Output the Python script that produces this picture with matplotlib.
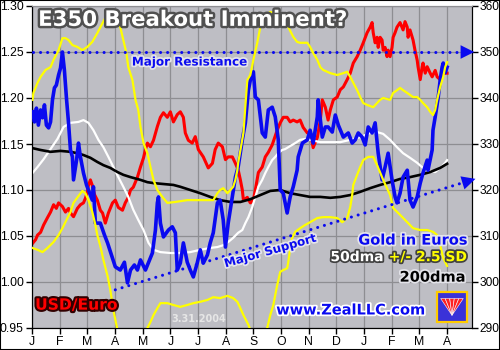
import matplotlib
matplotlib.use("Agg")
import matplotlib.pyplot as plt
import matplotlib.patheffects as pe
from matplotlib.patches import Rectangle, Polygon

# x positions are months since 1 Jan 2004
month_labels = ["J", "F", "M", "A", "M", "J", "J", "A", "S", "O", "N", "D", "J", "F", "M", "A"]

# gold in euros (right axis)
gold_months = [0.02, 0.09, 0.16, 0.23, 0.31, 0.38, 0.45, 0.52, 0.60, 0.67, 0.74, 0.81, 0.88, 0.96, 1.03,
               1.10, 1.17, 1.25, 1.32, 1.39, 1.46, 1.50, 1.61, 1.68, 1.75, 1.86, 1.97, 2.04, 2.18, 2.22,
               2.29, 2.47, 2.62, 2.73, 2.87, 3.01, 3.19, 3.34, 3.45, 3.56, 3.70, 3.81, 3.92, 4.10, 4.35,
               4.46, 4.53, 4.57, 4.64, 4.75, 4.93, 5.07, 5.18, 5.25, 5.36, 5.47, 5.61, 5.72, 5.83, 5.97,
               6.08, 6.19, 6.34, 6.44, 6.55, 6.70, 6.80, 6.91, 6.99, 7.09, 7.24, 7.35, 7.45, 7.60, 7.71,
               7.82, 7.89, 8.00, 8.07, 8.18, 8.32, 8.43, 8.54, 8.68, 8.79, 8.90, 8.97, 9.08, 9.22, 9.33,
               9.44, 9.58, 9.62, 9.77, 9.95, 10.05, 10.16, 10.31, 10.34, 10.42, 10.49, 10.60, 10.70, 10.85,
               10.96, 11.07, 11.25, 11.43, 11.57, 11.68, 11.79, 11.93, 12.04, 12.15, 12.29, 12.40, 12.51,
               12.65, 12.76, 12.87, 13.01, 13.12, 13.19, 13.30, 13.41, 13.56, 13.66, 13.77, 13.92, 14.03,
               14.13, 14.28, 14.31, 14.46, 14.49, 14.57, 14.68, 14.75, 14.82, 14.86, 14.93, 15.00]
gold_eur = [337.0, 334.8, 337.8, 334.1, 337.4, 335.7, 338.5, 334.1, 333.5, 334.8, 339.6, 342.2, 342.8, 345.0, 346.5,
            350.0, 346.1, 339.6, 334.6, 328.7, 327.2, 322.2, 326.5, 330.2, 327.2, 323.7, 321.1, 320.0, 317.8, 320.7,
            312.8, 312.8, 310.2, 308.5, 305.9, 303.3, 302.6, 304.3, 299.8, 302.6, 303.7, 302.6, 304.8, 302.6, 306.3,
            311.3, 317.2, 318.5, 312.8, 309.8, 311.3, 312.0, 310.7, 302.6, 304.1, 308.5, 304.3, 302.6, 301.1, 304.1,
            307.0, 304.1, 305.9, 308.5, 310.7, 317.2, 317.8, 313.5, 307.6, 312.8, 318.5, 322.8, 325.0, 330.9, 334.6,
            341.7, 343.9, 345.7, 340.2, 339.6, 332.4, 331.5, 337.4, 338.0, 335.9, 330.9, 320.0, 319.3, 315.0, 318.5,
            320.7, 324.3, 327.2, 330.2, 330.9, 333.0, 330.2, 335.9, 339.6, 335.2, 331.5, 333.7, 333.7, 332.6,
            336.3, 334.1, 331.5, 332.4, 330.2, 330.9, 332.4, 331.5, 329.8, 333.7, 332.4, 334.6, 328.0,
            322.2, 325.0, 328.0, 322.2, 318.5, 317.2, 319.3, 322.8, 324.3, 317.8, 316.3, 318.5, 321.5,
            323.7, 326.5, 324.3, 328.7, 333.0, 335.9, 340.2, 343.9, 346.7, 347.6, 345.5, 346.7]

# USD/Euro (left axis)
usd_months = [0.02, 0.13, 0.20, 0.31, 0.42, 0.56, 0.67, 0.78, 0.88, 0.96, 1.10, 1.21, 1.32, 1.39, 1.50, 1.64,
              1.75, 1.86, 1.93, 2.00, 2.04, 2.11, 2.18, 2.26, 2.36, 2.47, 2.55, 2.65, 2.76, 2.91, 3.01, 3.12,
              3.27, 3.37, 3.48, 3.56, 3.66, 3.81, 3.92, 4.03, 4.10, 4.17, 4.28, 4.39, 4.53, 4.64, 4.75, 4.89,
              5.00, 5.11, 5.25, 5.36, 5.47, 5.54, 5.65, 5.79, 5.90, 6.01, 6.19, 6.37, 6.52, 6.62, 6.73, 6.88,
              6.99, 7.09, 7.24, 7.35, 7.45, 7.53, 7.60, 7.64, 7.78, 7.89, 8.00, 8.07, 8.18, 8.32, 8.43, 8.54,
              8.68, 8.86, 8.97, 9.08, 9.22, 9.33, 9.44, 9.58, 9.69, 9.80, 9.95, 10.05, 10.16, 10.31, 10.42,
              10.49, 10.60, 10.70, 10.78, 10.89, 11.03, 11.14, 11.25, 11.39, 11.50, 11.61, 11.75, 11.86, 11.97,
              12.11, 12.22, 12.29, 12.33, 12.40, 12.47, 12.51, 12.58, 12.65, 12.69, 12.76, 12.83, 12.87, 12.94,
              13.01, 13.05, 13.12, 13.19, 13.30, 13.41, 13.48, 13.56, 13.59, 13.66, 13.77, 13.84, 13.92, 13.95,
              14.03, 14.10, 14.13, 14.21, 14.28, 14.39, 14.46, 14.57, 14.64, 14.75, 14.86, 15.00]
usd_euro = [1.042, 1.046, 1.051, 1.054, 1.062, 1.070, 1.076, 1.084, 1.080, 1.086, 1.082, 1.076, 1.080, 1.075, 1.071, 1.080,
            1.084, 1.086, 1.091, 1.098, 1.105, 1.111, 1.105, 1.095, 1.089, 1.078, 1.075, 1.064, 1.075, 1.086, 1.089, 1.081,
            1.078, 1.086, 1.092, 1.100, 1.103, 1.114, 1.125, 1.135, 1.144, 1.151, 1.147, 1.154, 1.169, 1.179, 1.184, 1.179,
            1.185, 1.174, 1.182, 1.185, 1.179, 1.162, 1.154, 1.151, 1.158, 1.144, 1.136, 1.124, 1.129, 1.144, 1.151, 1.147,
            1.133, 1.136, 1.136, 1.129, 1.122, 1.111, 1.100, 1.089, 1.092, 1.086, 1.089, 1.100, 1.119, 1.125, 1.136, 1.141,
            1.149, 1.165, 1.173, 1.179, 1.179, 1.174, 1.176, 1.174, 1.176, 1.168, 1.162, 1.163, 1.146, 1.157, 1.176,
            1.198, 1.190, 1.176, 1.187, 1.198, 1.201, 1.209, 1.212, 1.220, 1.227, 1.238, 1.245, 1.252, 1.260,
            1.271, 1.277, 1.282, 1.271, 1.260, 1.266, 1.255, 1.266, 1.263, 1.252, 1.255, 1.245, 1.252, 1.245,
            1.255, 1.266, 1.271, 1.277, 1.282, 1.274, 1.283, 1.277, 1.266, 1.274, 1.263, 1.252, 1.241, 1.234,
            1.220, 1.234, 1.238, 1.227, 1.234, 1.227, 1.223, 1.230, 1.223, 1.220, 1.227, 1.227]

# 50dma +/- 2.5 SD bands
upper_months = [0.02, 0.05, 0.20, 0.31, 0.49, 0.67, 0.78, 0.96, 1.10, 1.21, 1.32, 1.46, 1.64, 1.82, 2.00, 2.18,
                2.36, 2.55, 2.65, 2.83, 3.01, 3.19, 3.30, 3.41, 3.48, 3.63, 3.74, 3.84, 3.92, 4.03, 4.17, 4.28,
                4.39, 4.53, 4.71, 4.89, 5.18, 5.61, 6.19, 6.55, 6.70, 6.80, 6.91, 7.06, 7.17, 7.27, 7.35, 7.42,
                7.45, 7.64, 7.78, 7.89, 8.00, 8.14, 8.25, 8.36, 8.61, 8.97, 9.22, 9.44, 9.58, 9.69, 9.95, 10.05,
                10.16, 10.31, 10.42, 10.52, 10.78, 11.03, 11.25, 11.39, 11.50, 11.61, 11.75, 11.86, 11.97, 12.11,
                12.33, 12.47, 12.58, 12.69, 12.94, 13.05, 13.19, 13.30, 13.41, 13.56, 13.77, 13.92, 14.03, 14.13,
                14.28, 14.39, 14.49, 14.57, 14.64, 14.75, 14.86, 14.93, 15.00]
upper_band = [339.6, 341.1, 343.3, 344.6, 346.1, 346.7, 348.3, 350.4, 353.0, 353.0, 352.6, 351.5, 351.1, 350.4, 351.1, 352.2,
              354.1, 356.3, 357.4, 358.7, 358.7, 355.4, 352.6, 349.8, 346.7, 343.9, 339.6, 337.4, 333.7, 330.2, 328.0, 325.0,
              322.2, 320.0, 318.5, 317.2, 317.4, 317.8, 317.8, 317.8, 319.3, 320.0, 320.4, 319.3, 320.0, 320.7, 322.2, 324.3,
              325.9, 332.4, 343.9, 345.0, 348.3, 352.0, 355.4, 357.4, 358.7, 358.0, 355.9, 353.3, 352.2, 352.0, 352.0, 351.1,
              349.8, 348.3, 346.7, 346.1, 345.4, 345.0, 345.4, 345.7, 344.6, 343.3, 341.7, 340.2, 338.9, 338.5,
              338.0, 338.9, 339.6, 340.0, 339.6, 341.1, 341.7, 342.2, 341.7, 341.1, 340.2, 340.2, 339.6, 338.9,
              338.0, 337.0, 336.3, 337.4, 339.6, 342.4, 344.6, 346.7, 347.8]
lower_months = [0.02, 0.20, 0.38, 0.56, 0.78, 0.96, 1.10, 1.28, 1.39, 1.50, 1.68, 1.82, 1.93, 2.04, 2.18, 2.29,
                2.36, 2.47, 2.58, 2.73, 2.83, 2.94, 3.05, 3.12, 3.38, 3.74, 3.99, 4.17, 4.28, 4.39, 4.53, 4.64,
                4.89, 5.11, 5.36, 5.61, 5.83, 6.08, 6.34, 6.55, 6.80, 7.06, 7.27, 7.42, 7.53, 7.64, 7.82, 7.96,
                8.25, 8.39, 8.50, 8.61, 8.72, 8.86, 8.97, 9.08, 9.22, 9.26, 9.33, 9.40, 9.51, 9.69, 9.87, 10.05,
                10.31, 10.52, 10.78, 11.03, 11.21, 11.39, 11.50, 11.57, 11.61, 11.75, 11.86, 11.97, 12.15, 12.33,
                12.47, 12.69, 12.94, 13.05, 13.30, 13.56, 13.77, 14.03, 14.28, 14.49, 14.64, 14.75, 14.86, 15.00]
lower_band = [307.4, 307.0, 306.5, 307.4, 308.7, 310.2, 311.7, 313.9, 315.2, 317.2, 318.7, 319.8, 319.3, 317.8, 315.2, 312.4,
              310.2, 307.8, 304.8, 301.3, 298.3, 293.9, 290.7, 288.5, 285.2, 284.8, 287.4, 290.0, 291.3, 292.8, 294.3, 295.4,
              295.4, 295.0, 294.6, 295.0, 295.4, 295.7, 296.1, 296.7, 296.5, 297.0, 296.5, 295.7, 294.3, 292.8, 290.7, 288.5,
              286.3, 288.3, 290.0, 292.8, 295.0, 299.3, 302.2, 302.6, 303.0, 304.3, 307.4, 309.6, 310.9, 311.7, 312.4, 313.0,
              313.9, 314.1, 314.1, 313.9, 313.0, 313.9, 316.3, 318.9, 321.1, 323.3, 325.0, 326.5, 327.2, 327.2,
              325.4, 322.2, 318.9, 316.1, 314.6, 313.0, 311.7, 311.3, 311.3, 310.9, 310.2, 308.0, 305.2, 303.5]

# 50dma
dma50_months = [0.02, 0.20, 0.42, 0.67, 0.92, 1.14, 1.39, 1.68, 1.86, 2.04, 2.22, 2.40, 2.58, 2.76, 2.94, 3.12,
                3.30, 3.48, 3.66, 3.84, 4.03, 4.21, 4.39, 4.64, 5.00, 5.36, 5.72, 6.08, 6.44, 6.70, 6.91, 7.09,
                7.27, 7.45, 7.60, 7.71, 7.82, 7.96, 8.07, 8.18, 8.32, 8.43, 8.54, 8.68, 8.79, 8.90, 9.04, 9.15,
                9.26, 9.40, 9.51, 9.69, 9.87, 10.05, 10.42, 10.78, 11.14, 11.50, 11.86, 12.22, 12.47, 12.69,
                12.94, 13.19, 13.41, 13.66, 13.92, 14.13, 14.39, 14.57, 14.75, 14.93, 15.00]
dma50 = [323.7, 325.0, 326.7, 328.9, 331.1, 333.7, 334.6, 334.8, 335.2, 334.6, 333.0, 330.9, 329.3, 327.2, 325.0, 322.8,
         320.7, 318.5, 315.7, 313.5, 311.3, 308.5, 307.0, 306.5, 306.3, 306.3, 306.5, 307.0, 307.4, 307.6, 308.0, 308.7,
         309.6, 310.7, 311.3, 312.8, 314.1, 316.3, 318.5, 320.7, 322.2, 323.7, 325.0, 326.5, 327.2, 328.0, 328.7, 328.9,
         329.3, 329.8, 330.2, 330.9, 331.1, 330.9, 330.4, 330.4, 330.4, 330.9, 331.5, 332.4, 332.6, 332.2,
         330.9, 329.3, 328.0, 327.0, 325.9, 324.8, 324.1, 323.9, 324.8, 325.9, 326.5]

# 200dma
dma200_months = [0.02, 0.31, 0.67, 1.03, 1.39, 1.64, 1.86, 2.11, 2.36, 2.58, 2.83, 3.09, 3.30, 3.56, 3.92, 4.17,
                 4.39, 4.75, 5.11, 5.36, 5.72, 6.08, 6.44, 6.80, 7.17, 7.53, 7.89, 8.25, 8.61, 8.97, 9.33, 9.69,
                 10.05, 10.42, 10.78, 11.14, 11.50, 11.86, 12.22, 12.58, 12.94, 13.30, 13.66, 14.03, 14.39, 14.75, 15.00]
dma200 = [329.1, 328.7, 328.3, 328.5, 328.3, 328.0, 327.6, 327.0, 326.1, 325.4, 324.8, 323.9, 323.3, 322.8, 322.2, 321.7,
          321.5, 321.3, 321.1, 320.7, 320.0, 319.3, 318.5, 317.8, 317.4, 317.4, 318.0, 318.9, 319.8, 320.0, 319.3, 318.9,
          318.5, 318.5, 318.3, 318.5, 318.9, 319.6, 320.4, 321.1, 321.7, 322.4, 322.8, 323.3, 323.9, 324.8, 325.7]

# annotation levels
resistance_level = 350
support_start = (3.01, 298.3)
support_end = (16.12, 322.6)

BLUE = "#0a0af0"
RED = "#ff0000"
YELLOW = "#ffff00"
BG = "#bebec4"
GRID = "#8e8e92"

fig = plt.figure(figsize=(5, 3.5), dpi=100)
ax = fig.add_axes([32 / 500, 22 / 350, 440 / 500, 322 / 350])
ax.set_facecolor(BG)
ax.set_xlim(0, 15.9)
ax.set_ylim(0.95, 1.30)
ax.set_xticks(range(len(month_labels)))
ax.set_xticklabels(month_labels)
ax.set_yticks([0.95 + 0.05 * i for i in range(8)])
ax.set_yticklabels(["%.2f" % (0.95 + 0.05 * i) for i in range(8)])
ax.grid(True, color=GRID, lw=0.9)
ax.set_axisbelow(True)
ax.tick_params(axis="both", direction="out", length=4, width=1, labelsize=8.8, pad=2)
for lab in ax.get_xticklabels() + ax.get_yticklabels():
    lab.set_family("Liberation Sans")
ax.plot(usd_months, usd_euro, color=RED, lw=2.2, zorder=3)

ax2 = ax.twinx()
ax2.set_ylim(290, 360)
ax2.set_yticks(range(290, 361, 10))
ax2.tick_params(axis="y", direction="out", length=4, width=1, labelsize=8.6, pad=1.5)
for lab in ax2.get_yticklabels():
    lab.set_family("Liberation Sans")
for a in (ax, ax2):
    a.spines["top"].set_color(GRID)
    a.spines["left"].set_color("black")
    a.spines["right"].set_color("black")
    a.spines["bottom"].set_color("black")

ax2.plot(dma50_months, dma50, color="white", lw=1.6, zorder=2)
ax2.plot(dma200_months, dma200, color="black", lw=1.9, zorder=3)
ax2.plot(gold_months, gold_eur, color=BLUE, lw=2.6, zorder=4)
ax2.plot(upper_months, upper_band, color=YELLOW, lw=1.6, zorder=5)
ax2.plot(lower_months, lower_band, color=YELLOW, lw=1.6, zorder=5)

# resistance / support dotted lines with arrows
dots = dict(color=BLUE, lw=2.2, ls=(0, (0.01, 2.3)), dash_capstyle="round", zorder=6, clip_on=False)
ax2.plot([0.02, 15.45], [resistance_level, resistance_level], **dots)
ax2.annotate("", xy=(16.08, resistance_level), xytext=(15.4, resistance_level),
             arrowprops=dict(arrowstyle="-|>,head_length=0.7,head_width=0.35", color=BLUE, lw=0,
                             mutation_scale=14), annotation_clip=False, zorder=6)
slope = (support_end[1] - support_start[1]) / (support_end[0] - support_start[0])
sx_end = 15.5
ax2.plot([support_start[0], sx_end], [support_start[1], support_start[1] + slope * (sx_end - support_start[0])], **dots)
ax2.annotate("", xy=support_end, xytext=(15.4, support_start[1] + slope * (15.4 - support_start[0])),
             arrowprops=dict(arrowstyle="-|>,head_length=0.7,head_width=0.35", color=BLUE, lw=0,
                             mutation_scale=14), annotation_clip=False, zorder=6)

tr = ax2.transAxes
halo = [pe.withStroke(linewidth=2.5, foreground="#e4e4ea")]
dark = [pe.withStroke(linewidth=2.5, foreground="#404040")]

ax2.text(0.014, 0.957, "E350 Breakout Imminent?", transform=tr, ha="left", va="center",
         fontsize=15.3, fontweight="bold", color="white",
         path_effects=[pe.withStroke(linewidth=3.5, foreground="#505050")], zorder=8)
ax2.text(0.227, 0.826, "Major Resistance", transform=tr, ha="left", va="center",
         fontsize=8.6, fontweight="bold", color=BLUE, path_effects=halo, zorder=8)
ax2.text(0.541, 0.239, "Major Support", transform=tr, ha="center", va="center", rotation=16,
         fontsize=8.5, fontweight="bold", color=BLUE, path_effects=halo, zorder=8)
ax2.text(0.007, 0.071, "USD/Euro", transform=tr, ha="left", va="center",
         fontsize=11.2, fontweight="bold", color=RED,
         path_effects=[pe.withStroke(linewidth=3, foreground="#300000")], zorder=8)
ax2.text(0.378, 0.028, "3.31.2004", transform=tr, ha="center", va="center",
         fontsize=7, fontweight="bold", color="#e6e6e6", zorder=8)
ax2.text(0.991, 0.273, "Gold in Euros", transform=tr, ha="right", va="center",
         fontsize=10.5, fontweight="bold", color=BLUE, path_effects=halo, zorder=8)
ax2.text(0.799, 0.220, "50dma", transform=tr, ha="right", va="center",
         fontsize=10, fontweight="bold", color="white", path_effects=dark, zorder=8)
ax2.text(0.989, 0.220, "+/- 2.5 SD", transform=tr, ha="right", va="center",
         fontsize=10, fontweight="bold", color=YELLOW, path_effects=dark, zorder=8)
ax2.text(0.986, 0.158, "200dma", transform=tr, ha="right", va="center",
         fontsize=10.5, fontweight="bold", color="black", path_effects=halo, zorder=8)
ax2.text(0.725, 0.056, "www.ZealLLC.com", transform=tr, ha="center", va="center",
         fontsize=10.5, fontweight="bold", color=BLUE,
         path_effects=[pe.withStroke(linewidth=2.5, foreground="white")], zorder=8)

# little logo box
lx, ly, lw_, lh = 0.920, 0.019, 0.069, 0.093
ax2.add_patch(Rectangle((lx, ly), lw_, lh, transform=tr, facecolor="#3a32d8", edgecolor="#ffcc00",
                        lw=1.6, zorder=8))
cx, cy = lx + lw_ * 0.5, ly + lh * 0.22
for i in range(5):
    a = -0.30 + i * 0.15
    ax2.add_patch(Polygon([(cx, cy), (cx + a * lw_ - 0.005, ly + lh * 0.78), (cx + a * lw_ + 0.005, ly + lh * 0.78)],
                          closed=True, transform=tr, facecolor="#ff2020", edgecolor="white", lw=0.4, zorder=9))

fig.patches.append(Rectangle((0, 0), 1, 1, transform=fig.transFigure, fill=False, edgecolor="black", lw=1.5))
fig.savefig("out.png", dpi=100)
